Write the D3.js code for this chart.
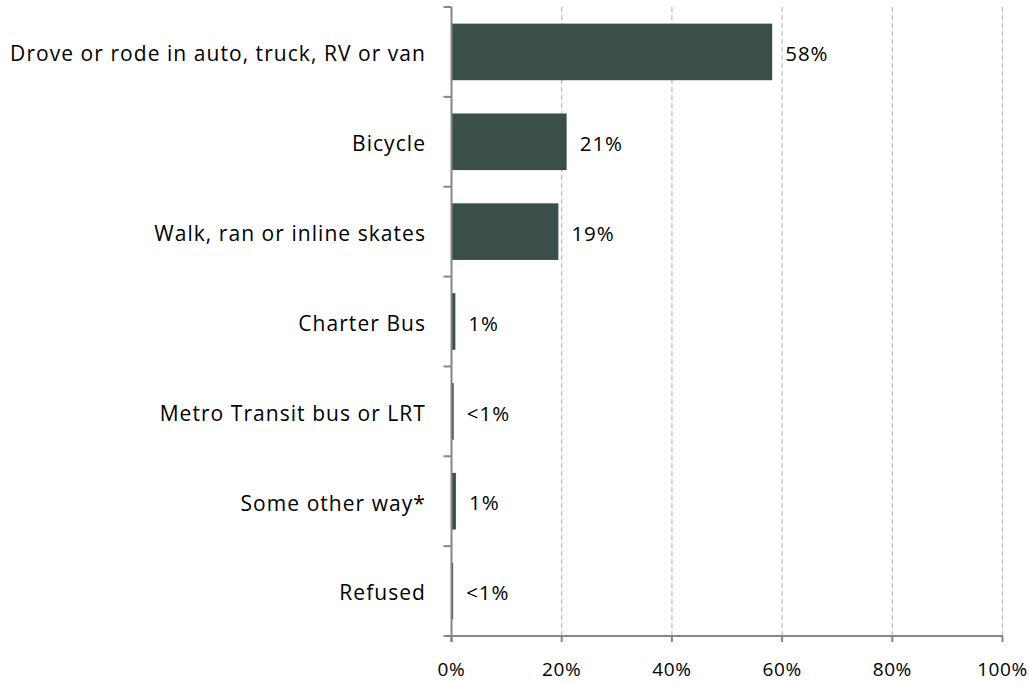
<!DOCTYPE html>
<html><head><meta charset="utf-8">
<script src="https://cdn.jsdelivr.net/npm/d3@7"></script>
<style>body{margin:0;background:#fff}svg{display:block}text{font-family:"Open Sans",sans-serif;fill:#000}</style>
</head><body><svg id="c" width="1029" height="682"></svg>
<script>
const categories = ["Drove or rode in auto, truck, RV or van","Bicycle","Walk, ran or inline skates","Charter Bus","Metro Transit bus or LRT","Some other way*","Refused"];
const values = [58.2, 20.9, 19.4, 0.7, 0.4, 0.8, 0.3];
const valueLabels = ["58%","21%","19%","1%","<1%","1%","<1%"];
const xTicks = [0,20,40,60,80,100];

(function(){
const svg = d3.select("#c");
const pL = 451.5, pR = 1002.5, pT = 7, pB = 636;
const x = d3.scaleLinear().domain([0,100]).range([pL,pR]);
const y = d3.scaleBand().domain(categories).range([pT,pB]).paddingInner(0.37).paddingOuter(0.185);
const step = (pB-pT)/categories.length;

svg.append("g").selectAll("line").data(xTicks.filter(d=>d>0)).join("line")
  .attr("x1",d=>x(d)).attr("x2",d=>x(d)).attr("y1",pT).attr("y2",pB)
  .attr("stroke","#c0c0c0").attr("stroke-width",1.3).attr("stroke-dasharray","5,3");

svg.append("g").selectAll("rect").data(values).join("rect")
  .attr("x",x(0)).attr("y",(d,i)=>y(categories[i]))
  .attr("width",d=>x(d)-x(0)).attr("height",y.bandwidth())
  .attr("fill","#3b4f4a");

svg.append("g").selectAll("text").data(values).join("text")
  .attr("x",d=>x(d)+13).attr("y",(d,i)=>y(categories[i])+y.bandwidth()/2+2)
  .attr("dy","0.35em").attr("font-size",20.5).attr("letter-spacing",1).text((d,i)=>valueLabels[i]);

svg.append("g").selectAll("text").data(categories).join("text")
  .attr("x",426).attr("y",d=>y(d)+y.bandwidth()/2+2).attr("dy","0.35em")
  .attr("text-anchor","end").attr("font-size",21).attr("letter-spacing",1.05).text(d=>d);

const axisColor = "#868686";
svg.append("line").attr("x1",pL).attr("x2",pL).attr("y1",pT).attr("y2",pB+6)
  .attr("stroke",axisColor).attr("stroke-width",2);
svg.append("g").selectAll("line").data(d3.range(categories.length+1)).join("line")
  .attr("x1",pL-8).attr("x2",pL).attr("y1",i=>pT+i*step).attr("y2",i=>pT+i*step)
  .attr("stroke",axisColor).attr("stroke-width",2);

svg.append("line").attr("x1",pL).attr("x2",pR).attr("y1",pB).attr("y2",pB)
  .attr("stroke",axisColor).attr("stroke-width",2);
svg.append("g").selectAll("line").data(xTicks).join("line")
  .attr("x1",d=>x(d)).attr("x2",d=>x(d)).attr("y1",pB).attr("y2",pB+6)
  .attr("stroke",axisColor).attr("stroke-width",2);
svg.append("g").selectAll("text").data(xTicks).join("text")
  .attr("x",d=>x(d)).attr("y",676).attr("text-anchor","middle").attr("font-size",19).attr("letter-spacing",0.6)
  .text(d=>d+"%");
})();
</script></body></html>
